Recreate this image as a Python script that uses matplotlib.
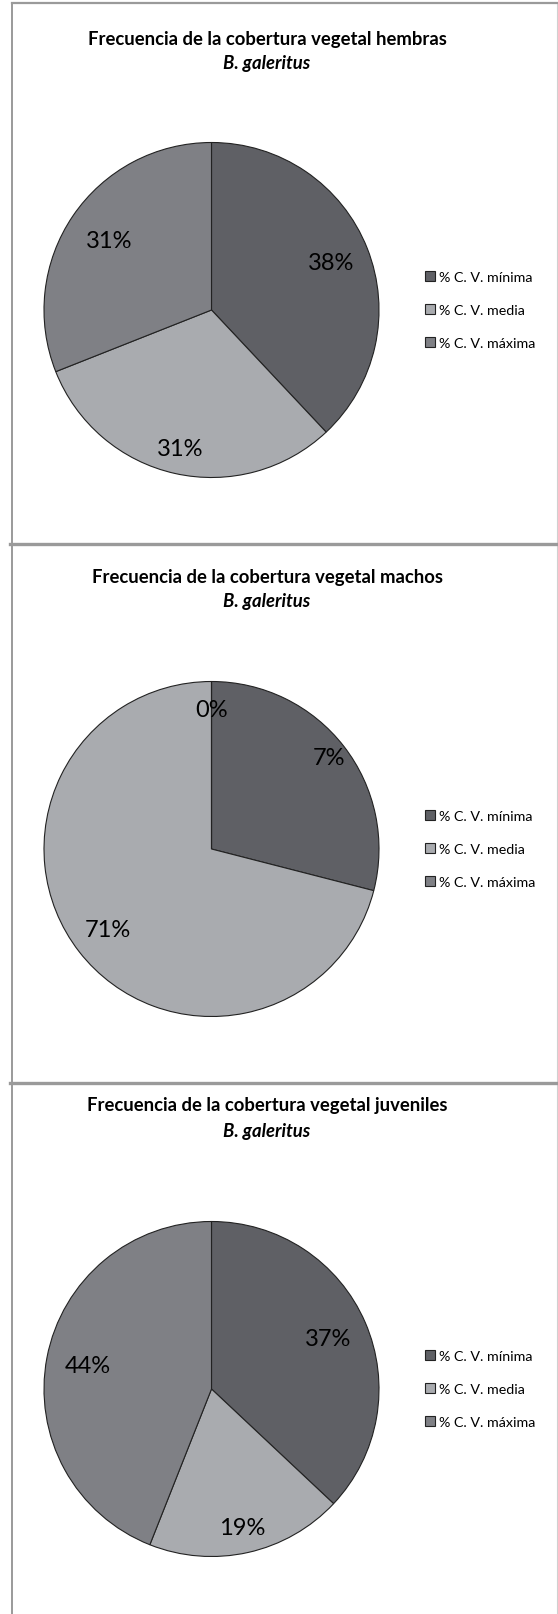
import matplotlib
matplotlib.use('Agg')
import matplotlib.pyplot as plt
from matplotlib.lines import Line2D
import numpy as np

plt.rcParams['font.family'] = ['Lato', 'DejaVu Sans']

# Data
categories = ['% C. V. mínima', '% C. V. media', '% C. V. máxima']
groups = ['hembras', 'machos', 'juveniles']
hembras = [38, 31, 31]
machos = [29, 71, 0]
juveniles = [37, 19, 44]
# the printed data labels (as shown in the original charts)
hembras_labels = ['38%', '31%', '31%']
machos_labels = ['7%', '71%', '0%']
juveniles_labels = ['37%', '19%', '44%']

colors = ['#5f6065', '#a9abaf', '#7f8085']

W, H = 558, 1615
fig = plt.figure(figsize=(W / 100, H / 100), dpi=100)


def fx(x):
    return x / W


def fy(y):
    return 1 - y / H


# panel frames
frame_col = '#9a9a9a'
fig.add_artist(Line2D([fx(12), fx(12)], [fy(4), fy(H)], color=frame_col, lw=1.4))
fig.add_artist(Line2D([fx(557), fx(557)], [fy(4), fy(H)], color='#d0d0d0', lw=0.8))
fig.add_artist(Line2D([fx(12), fx(W)], [fy(4), fy(4)], color=frame_col, lw=1.6))
for ys in [544.5, 1084]:
    fig.add_artist(Line2D([fx(10), fx(W)], [fy(ys), fy(ys)], color=frame_col, lw=2.4))

panels = [
    (hembras, hembras_labels, 311, 40, 63, [0.77, 0.85, 0.74]),
    (machos, machos_labels, 850, 577, 602, [0.89, 0.78, 0.83]),
    (juveniles, juveniles_labels, 1390, 1105, 1132, [0.76, 0.85, 0.75]),
]

cx, r = 211.5, 167.5
for (vals, labs, cy, t1, t2, dists), grp in zip(panels, groups):
    fig.text(fx(267), fy(t1), 'Frecuencia de la cobertura vegetal ' + grp,
             ha='center', va='center', fontsize=13.3, fontweight='bold')
    fig.text(fx(267), fy(t2), 'B. galeritus', ha='center', va='center',
             fontsize=13.3, fontweight='bold', style='italic')

    ax = fig.add_axes([fx(cx - r), fy(cy + r), 2 * r / W, 2 * r / H])
    wedges, _ = ax.pie(vals, colors=colors, startangle=90, counterclock=False,
                       wedgeprops=dict(edgecolor='#222222', linewidth=0.8))
    ax.set_xlim(-1, 1)
    ax.set_ylim(-1, 1)
    ax.set_aspect('auto')
    ax.axis('off')

    for w, lab, d in zip(wedges, labs, dists):
        ang = np.deg2rad((w.theta1 + w.theta2) / 2)
        ax.text(d * np.cos(ang), d * np.sin(ang), lab, ha='center', va='center',
                fontsize=17, color='black')

    ax.legend(wedges, categories, loc='center left',
              bbox_to_anchor=(fx(418), fy(cy)), bbox_transform=fig.transFigure,
              frameon=False, fontsize=10.3, handlelength=0.7, handleheight=0.7,
              handletextpad=0.3, labelspacing=1.45, borderpad=0)

fig.savefig('out.png', dpi=100)
